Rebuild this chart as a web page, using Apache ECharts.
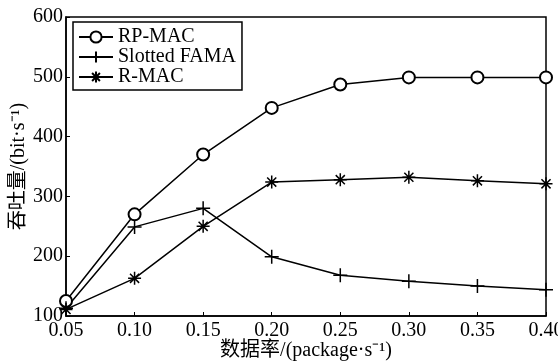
<!DOCTYPE html>
<html><head><meta charset="utf-8">
<script src="https://cdn.jsdelivr.net/npm/echarts@6/dist/echarts.min.js"></script>
<style>html,body{margin:0;padding:0;background:#fff}#c{width:558px;height:361px}</style>
</head><body><div id="c"></div>
<script>
const categories = ['0.05','0.10','0.15','0.20','0.25','0.30','0.35','0.40'];
const rpMac = [125, 270, 370, 448, 487, 499, 499, 499];
const slottedFama = [113, 249, 280, 199, 168, 158, 150, 144];
const rMac = [111, 163, 250, 324, 328, 332, 326, 321];
const yTicks = [100, 200, 300, 400, 500, 600];

const FONT = '"Liberation Serif","Noto Sans CJK SC",serif';
const chart = echarts.init(document.getElementById('c'));
const plusPath = 'path://M0,-1 L0,1 M-1,0 L1,0';
const starPath = 'path://M0,-1 L0,1 M-1,0 L1,0 M-0.7,-0.7 L0.7,0.7 M0.7,-0.7 L-0.7,0.7';
function series(name, data, symbol, size) {
  return {
    name, type: 'line', data, symbol, symbolSize: size,
    lineStyle: { color: '#000', width: 1.5 },
    itemStyle: { color: '#000', borderColor: '#000', borderWidth: 1.5 },
    emphasis: { disabled: true }, animation: false
  };
}
chart.setOption({
  animation: false,
  grid: { left: 66, right: 12, top: 17, bottom: 45, outerBoundsMode: 'none', containLabel: false,
          show: true, borderColor: '#000', borderWidth: 1.5, backgroundColor: 'transparent' },
  legend: {
    orient: 'vertical', left: 73, top: 22, padding: [5, 6, 3, 5], itemGap: 0,
    itemWidth: 34, itemHeight: 14,
    borderColor: '#000', borderWidth: 1.5, backgroundColor: '#fff',
    textStyle: { fontFamily: FONT, fontSize: 20, color: '#000', padding: [0, 0, 0, 0] },
    data: ['RP-MAC', 'Slotted FAMA', 'R-MAC']
  },
  xAxis: {
    type: 'category', data: categories, boundaryGap: false,
    name: '数据率/(package·s⁻¹)', nameLocation: 'middle', nameGap: 25, nameMoveOverlap: false,
    nameTextStyle: { fontFamily: FONT, fontSize: 20, color: '#000' },
    axisLine: { lineStyle: { color: '#000', width: 1.5 } },
    axisTick: { inside: true, length: 4, lineStyle: { color: '#000' } },
    axisLabel: { fontFamily: FONT, fontSize: 20, color: '#000', margin: 5, showMaxLabel: true },
    splitLine: { show: false }
  },
  yAxis: {
    type: 'value', min: yTicks[0], max: yTicks[yTicks.length - 1], interval: 100,
    name: '吞吐量/(bit·s⁻¹)', nameLocation: 'middle', nameGap: 37, nameMoveOverlap: false,
    nameTextStyle: { fontFamily: FONT, fontSize: 20, color: '#000' },
    axisLine: { show: true, lineStyle: { color: '#000', width: 1.5 } },
    axisTick: { show: true, inside: true, length: 4, lineStyle: { color: '#000' } },
    axisLabel: { fontFamily: FONT, fontSize: 20, color: '#000', margin: 3 },
    splitLine: { show: false }
  },
  series: [
    series('RP-MAC', rpMac, 'emptyCircle', 12),
    series('Slotted FAMA', slottedFama, plusPath, 14),
    series('R-MAC', rMac, starPath, 13)
  ]
});
</script></body></html>
